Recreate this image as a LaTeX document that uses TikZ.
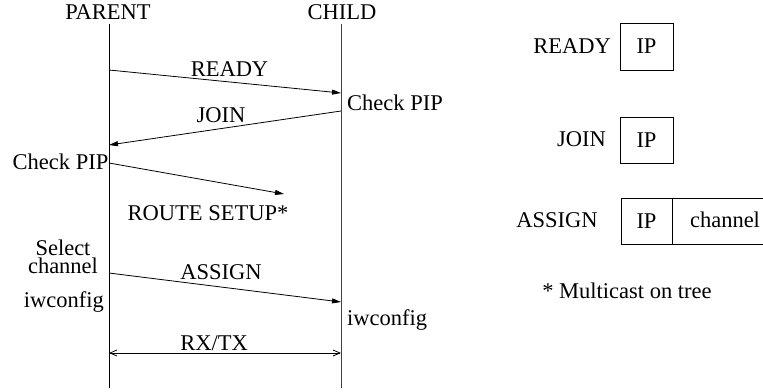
\documentclass[tikz,border=0pt]{standalone}
\usepackage{fontspec}
\setmainfont{Liberation Serif}
\usetikzlibrary{arrows.meta}
\tikzset{
  lbl/.style={inner sep=0pt, font=\fontsize{22.5}{16}\selectfont},
  life/.style={line width=0.9pt},
  msg/.style={line width=0.8pt, -{Triangle[length=9pt,width=5pt]}},
  both/.style={line width=0.8pt, {Straight Barb[length=7pt,width=6pt]}-{Straight Barb[length=7pt,width=6pt]}},
  cell/.style={draw, line width=0.8pt, minimum width=53pt, inner sep=0pt, outer sep=0pt, font=\fontsize{22.5}{16}\selectfont}
}
\begin{document}
\begin{tikzpicture}[x=1pt,y=-1pt]
\useasboundingbox (0,0) rectangle (763,391);
% lifelines
\coordinate (ptop) at (109,24); \coordinate (pbot) at (109,388);
\coordinate (ctop) at (341,24); \coordinate (cbot) at (341,388);
\draw[life] (ptop) -- (pbot);
\draw[life, black!75] (ctop) -- (cbot);
\node[lbl, anchor=base] (parent) at (108,19) {PARENT};
\node[lbl, anchor=base] (child) at (342,19) {CHILD};
% messages
\coordinate (r1) at (109,70); \coordinate (r2) at (341,93);
\draw[msg] (r1) -- (r2);
\node[lbl, anchor=base] (ready) at (229.5,76) {READY};
\coordinate (j1) at (341,111); \coordinate (j2) at (109,145);
\draw[msg] (j1) -- (j2);
\node[lbl, anchor=base] (join) at (221,122) {JOIN};
\node[lbl, anchor=base west] (cpipc) at (347,110) {Check PIP};
\node[lbl, anchor=base east] (cpipp) at (108.5,169) {Check PIP};
\coordinate (s1) at (109,163); \coordinate (s2) at (284,194);
\draw[msg] (s1) -- (s2);
\node[lbl, anchor=base] (route) at (208,220) {ROUTE SETUP*};
\node[lbl, align=center, anchor=base] (select) at (63,273) {Select\\[2pt]channel};
\coordinate (a1) at (109,273); \coordinate (a2) at (341,302);
\draw[msg] (a1) -- (a2);
\node[lbl, anchor=base] (assign) at (221,279) {ASSIGN};
\node[lbl, anchor=base east] (iwp) at (104,307) {iwconfig};
\node[lbl, anchor=base west] (iwc) at (347,325) {iwconfig};
\coordinate (x1) at (109,353); \coordinate (x2) at (341,353);
\draw[both] (x1) -- (x2);
\node[lbl, anchor=base] (rxtx) at (214,350) {RX/TX};
% message formats
\node[lbl, anchor=base east] (fready) at (611,53) {READY};
\node[cell, minimum height=47pt] (ipr) at (646.5,46.5) {IP};
\node[lbl, anchor=base east] (fjoin) at (606,146) {JOIN};
\node[cell, minimum height=46pt] (ipj) at (646.5,140) {IP};
\node[lbl, anchor=base] (fassign) at (557,227) {ASSIGN};
\node[cell, minimum height=46pt, minimum width=51pt] (ipa) at (646.5,221) {IP};
\coordinate (chtop) at (763,198); \coordinate (chbot) at (763,244);
\draw[line width=0.8pt] (ipa.north east) -- (chtop);
\draw[line width=0.8pt] (ipa.south east) -- (chbot);
\node[lbl, anchor=base] (fchan) at (725,227) {channel};
\node[lbl, anchor=base] (note) at (627,298) {* Multicast on tree};
\end{tikzpicture}
\end{document}
